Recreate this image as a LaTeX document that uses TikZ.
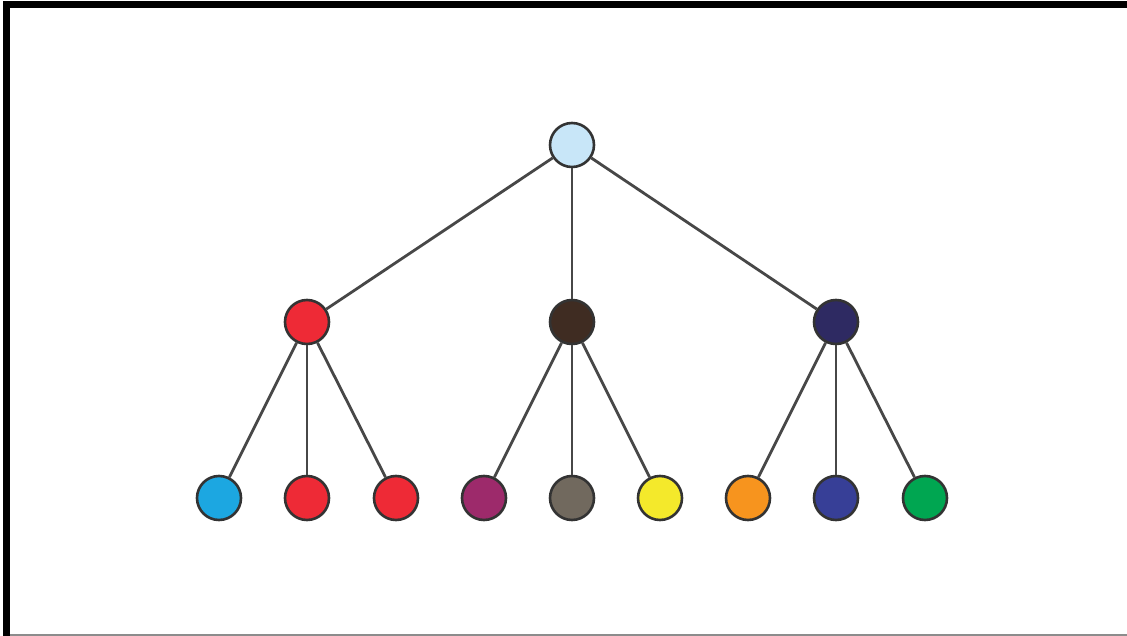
\documentclass[tikz,border=0pt]{standalone}
\begin{document}
\begin{tikzpicture}[x=1pt,y=-1pt,
  dot/.style={circle,draw=black!80,line width=2.6pt,minimum size=44pt,inner sep=0pt},
  edge/.style={draw=black!72,line width=2.8pt}]
\definecolor{cRoot}{HTML}{C8E6F8}
\definecolor{cRed}{HTML}{EE2A36}
\definecolor{cBrown}{HTML}{3F2C22}
\definecolor{cNavy}{HTML}{2E2A62}
\definecolor{cCyan}{HTML}{1CA7E1}
\definecolor{cPurple}{HTML}{9D2A6B}
\definecolor{cTaupe}{HTML}{71695E}
\definecolor{cYellow}{HTML}{F4E92B}
\definecolor{cOrange}{HTML}{F7941E}
\definecolor{cBlue}{HTML}{373F97}
\definecolor{cGreen}{HTML}{00A651}
\useasboundingbox (0,0) rectangle (1127,636);
\fill[white] (0,0) rectangle (1127,636);
% frame
\draw[black!45,line width=2pt] (6,634.5) -- (1127,634.5);
\draw[black,line width=6.5pt] (6.5,4.5) -- (1127,4.5);
\draw[black,line width=6.5pt] (6.5,1.5) -- (6.5,636);
% nodes
\node[dot,fill=cRoot] (r) at (572,145) {};
\node[dot,fill=cRed] (a) at (307,322) {};
\node[dot,fill=cBrown] (b) at (572,322) {};
\node[dot,fill=cNavy] (c) at (836,322) {};
\node[dot,fill=cCyan] (a1) at (219,498) {};
\node[dot,fill=cRed] (a2) at (307,498) {};
\node[dot,fill=cRed] (a3) at (396,498) {};
\node[dot,fill=cPurple] (b1) at (484,498) {};
\node[dot,fill=cTaupe] (b2) at (572,498) {};
\node[dot,fill=cYellow] (b3) at (660,498) {};
\node[dot,fill=cOrange] (c1) at (748,498) {};
\node[dot,fill=cBlue] (c2) at (836,498) {};
\node[dot,fill=cGreen] (c3) at (925,498) {};
% edges
\foreach \p/\q in {r/a,r/b,r/c,a/a1,a/a2,a/a3,b/b1,b/b2,b/b3,c/c1,c/c2,c/c3}
  \draw[edge] (\p) -- (\q);
\end{tikzpicture}
\end{document}
